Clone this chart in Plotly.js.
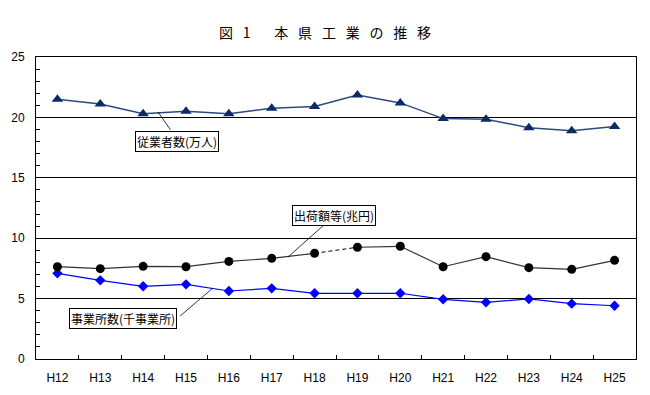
<!DOCTYPE html>
<html><head><meta charset="utf-8">
<script src="https://cdn.plot.ly/plotly-3.0.1.min.js"></script>
<style>html,body{margin:0;padding:0;background:#fff}#c{width:650px;height:395px}</style>
</head><body><div id="c"></div>
<script>
const years = ['H12','H13','H14','H15','H16','H17','H18','H19','H20','H21','H22','H23','H24','H25'];
const employees = [21.5,21.1,20.3,20.5,20.3,20.75,20.9,21.85,21.2,19.9,19.85,19.15,18.9,19.25];
const shipments = [7.64,7.48,7.67,7.64,8.08,8.33,8.75,9.25,9.33,7.64,8.47,7.56,7.42,8.17];
const establishments = [7.09,6.51,6.02,6.18,5.63,5.85,5.44,5.44,5.44,4.94,4.69,4.97,4.58,4.41];
const breakAt = 6; // series break between H18 and H19
const labelEmp = '従業者数(万人)';
const labelShip = '出荷額等(兆円)';
const labelEst = '事業所数(千事業所)';
const G = '\u2002\u2009';
const titleText = '図' + G + '1' + '\u3000\u2002\u2009' + ['本','県','工','業','の','推','移'].join(G);

const jp = '"Noto Sans CJK JP", "Noto Sans", sans-serif';
const traces = [
  {x: years, y: employees, type:'scatter', mode:'lines+markers',
   line:{color:'#2c4a80', width:1.5},
   marker:{symbol:'triangle-up', size:10, color:'#0b2a66'}},
  {x: years, y: establishments, type:'scatter', mode:'lines+markers',
   line:{color:'#0000ff', width:1.2},
   marker:{symbol:'diamond', size:8, color:'#0000ff'}},
  {x: years.slice(0, breakAt+1), y: shipments.slice(0, breakAt+1), type:'scatter', mode:'lines+markers',
   line:{color:'#333333', width:1.2},
   marker:{symbol:'circle', size:9, color:'#000000'}},
  {x: years.slice(breakAt, breakAt+2), y: shipments.slice(breakAt, breakAt+2), type:'scatter', mode:'lines',
   line:{color:'#000000', width:1, dash:'4px,3px'}},
  {x: years.slice(breakAt+1), y: shipments.slice(breakAt+1), type:'scatter', mode:'lines+markers',
   line:{color:'#333333', width:1.2},
   marker:{symbol:'circle', size:9, color:'#000000'}}
];

function box(text, x, y){
  return {text:text, x:x, y:y, xref:'x', yref:'y', showarrow:false,
    font:{family:jp, size:12, color:'#000'}, bgcolor:'#fff',
    bordercolor:'#000', borderwidth:1, borderpad:1};
}
function leader(x, y, ax, ay){
  return {text:' ', x:x, y:y, xref:'x', yref:'y', showarrow:true, arrowhead:0,
    arrowwidth:0.8, arrowcolor:'#000', ax:ax, ay:ay, font:{size:1}, standoff:0, startstandoff:0};
}

const layout = {
  width:650, height:395,
  margin:{l:36, r:14, t:57, b:36},
  paper_bgcolor:'#fff', plot_bgcolor:'#fff',
  showlegend:false,
  title:{text:titleText, x:0.5, xanchor:'center', y:0.915, yanchor:'middle',
    font:{family:jp, size:14, color:'#000'}},
  xaxis:{type:'category', range:[-0.5,13.5], showgrid:false, zeroline:false,
    showline:true, linecolor:'#000', linewidth:1, mirror:true,
    ticks:'inside', ticklen:4, tickcolor:'#000', tickson:'boundaries',
    ticklabelstandoff:8,
    tickfont:{family:'"Liberation Sans", Arial, sans-serif', size:12, color:'#000'}},
  yaxis:{range:[0,25], dtick:5, tick0:0, showgrid:true, gridcolor:'#000', gridwidth:1,
    zeroline:false, showline:true, linecolor:'#000', linewidth:1, mirror:true,
    ticks:'inside', ticklen:4, tickcolor:'#000', ticklabelstandoff:8,
    minor:{dtick:1, ticks:'inside', ticklen:4, tickcolor:'#000', showgrid:false},
    tickfont:{family:'"Liberation Sans", Arial, sans-serif', size:12, color:'#000'}},
  annotations:[
    leader(2.347, 20.45, 14, 20),
    leader(5.38, 8.44, 37, -33),
    leader(3.62, 5.85, -34, 29),
    box(labelEmp, 2.78, 18.0),
    box(labelShip, 6.45, 11.92),
    box(labelEst, 1.52, 3.34)
  ]
};
Plotly.newPlot('c', traces, layout, {displayModeBar:false, staticPlot:true});
</script></body></html>
